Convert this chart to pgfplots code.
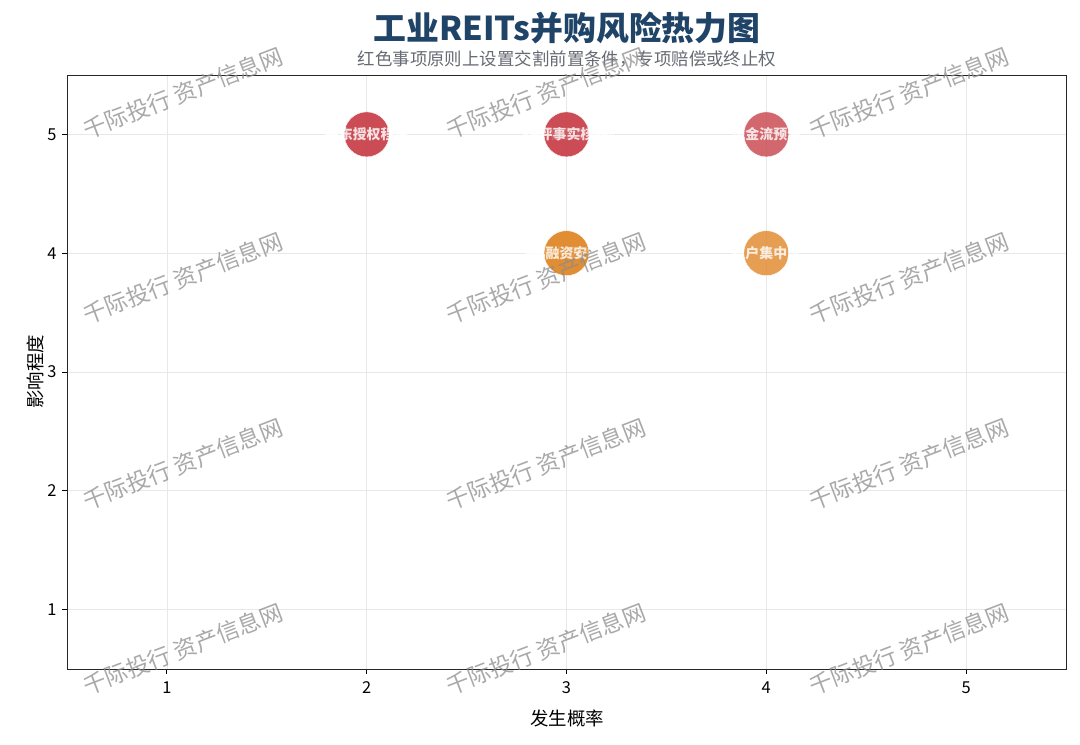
\documentclass[border=0pt]{standalone}
\usepackage{pgfplots}
\pgfplotsset{compat=1.18}
\usepackage{fontspec}
\setmainfont{Noto Sans CJK SC}
\definecolor{riskred}{HTML}{C9464E}
\definecolor{riskorange}{HTML}{E0892C}
\definecolor{titleblue}{HTML}{1F4468}
\definecolor{subgray}{HTML}{666B73}
\begin{document}
\begin{tikzpicture}[x=1bp,y=1bp]
\path[use as bounding box] (0,0) rectangle (1080,745);
\begin{axis}[at={(67bp,76bp)}, anchor=south west, scale only axis,
  width=999bp, height=594bp,
  xmin=0.5, xmax=5.5, ymin=0.5, ymax=5.5,
  xtick={1,2,3,4,5}, ytick={1,2,3,4,5},
  grid=major, grid style={color=black!9, line width=0.8bp},
  axis line style={line width=0.9bp, color=black!85},
  tick style={black, line width=0.9bp}, tick align=outside, major tick length=5bp,
  xtick pos=bottom, ytick pos=left,
  tick label style={font=\fontsize{16.5}{19}\selectfont},
  xticklabel style={yshift=-4bp},
  yticklabel style={xshift=-2bp},
  /pgf/number format/assume math mode=true,
  clip=false]
\addplot[only marks, mark=*, mark size=22.5bp,
  mark options={fill=riskred, draw=white, line width=0.4bp, fill opacity=0.82},
  point meta=explicit symbolic, nodes near coords,
  nodes near coords style={anchor=center, text=white, font=\bfseries\fontsize{14}{16}\selectfont}]
  coordinates {(2,5)[国资审批程序] (2,5)[股东授权程序] (3,5)[土地用途及功能] (3,5)[环评事实核查] (4,5)[现金流预测]};
\addplot[only marks, mark=*, mark size=22.5bp,
  mark options={fill=riskorange, draw=white, line width=0.4bp, fill opacity=0.82},
  point meta=explicit symbolic, nodes near coords,
  nodes near coords style={anchor=center, text=white, font=\bfseries\fontsize{14}{16}\selectfont}]
  coordinates {(3,4)[关键人员流失] (3,4)[再融资安排] (4,4)[租户集中度]};
\end{axis}
% titles and axis labels
\node[font=\bfseries\fontsize{33}{38}\selectfont, text=titleblue] at (567,717) {工业REITs并购风险热力图};
\node[font=\fontsize{17.5}{20}\selectfont, text=subgray] at (567,686) {红色事项原则上设置交割前置条件，专项赔偿或终止权};
\node[font=\fontsize{18.5}{22}\selectfont] at (567,27) {发生概率};
\node[font=\fontsize{18.5}{22}\selectfont, rotate=90] at (35,373) {影响程度};
% watermark
\foreach \cx in {183,546,909}{
  \foreach \cy in {652,467,281,96}{
    \node[rotate=21, text=black!45, opacity=0.75, font=\fontsize{23}{26}\selectfont] at (\cx,\cy) {千际投行 资产信息网};
  }
}
\end{tikzpicture}
\end{document}
